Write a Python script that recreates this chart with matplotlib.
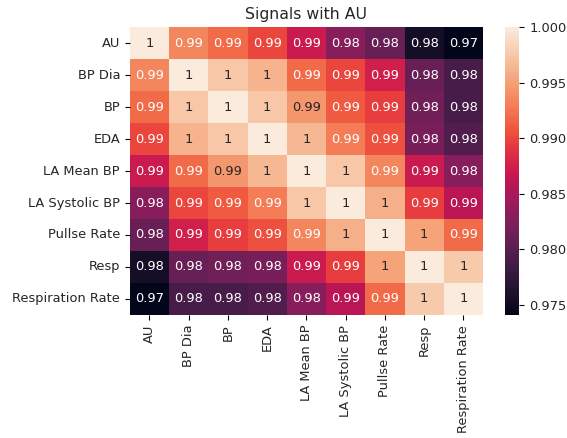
import numpy as np
import pandas as pd
import matplotlib
matplotlib.use("Agg")
import matplotlib.pyplot as plt
import seaborn as sns

# signal names (x and y)
labels = ["AU", "BP Dia", "BP", "EDA", "LA Mean BP", "LA Systolic BP",
          "Pullse Rate", "Resp", "Respiration Rate"]

# correlation rows
r_au   = [1.0000, 0.9935, 0.9920, 0.9900, 0.9870, 0.9830, 0.9810, 0.9755, 0.9741]
r_bpd  = [0.9935, 1.0000, 0.9975, 0.9962, 0.9920, 0.9900, 0.9875, 0.9810, 0.9790]
r_bp   = [0.9920, 0.9975, 1.0000, 0.9975, 0.9945, 0.9910, 0.9895, 0.9815, 0.9790]
r_eda  = [0.9900, 0.9962, 0.9975, 1.0000, 0.9965, 0.9930, 0.9905, 0.9820, 0.9795]
r_lam  = [0.9870, 0.9920, 0.9945, 0.9965, 1.0000, 0.9975, 0.9935, 0.9870, 0.9830]
r_las  = [0.9830, 0.9900, 0.9910, 0.9930, 0.9975, 1.0000, 0.9960, 0.9895, 0.9860]
r_pul  = [0.9810, 0.9875, 0.9895, 0.9905, 0.9935, 0.9960, 1.0000, 0.9952, 0.9920]
r_resp = [0.9755, 0.9810, 0.9815, 0.9820, 0.9870, 0.9895, 0.9952, 1.0000, 0.9977]
r_rr   = [0.9741, 0.9790, 0.9790, 0.9795, 0.9830, 0.9860, 0.9920, 0.9977, 1.0000]

corr = pd.DataFrame([r_au, r_bpd, r_bp, r_eda, r_lam, r_las, r_pul, r_resp, r_rr],
                    index=labels, columns=labels)

plt.rcParams["font.size"] = 9.4
plt.rcParams["text.color"] = "#262626"
plt.rcParams["xtick.labelcolor"] = "#262626"
plt.rcParams["ytick.labelcolor"] = "#262626"

fig = plt.figure(figsize=(5.67, 4.38), dpi=100)
ax = fig.add_axes([0.229, 0.281, 0.623, 0.657])
cax = fig.add_axes([0.891, 0.281, 0.025, 0.657])

sns.heatmap(corr, annot=True, ax=ax, cbar_ax=cax, annot_kws={"size": 9.4})
ax.set_title("Signals with AU", fontsize=11.3)

fig.savefig("out.png", dpi=100)
